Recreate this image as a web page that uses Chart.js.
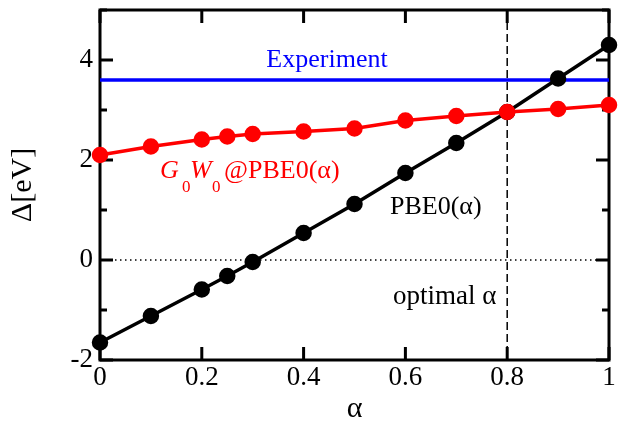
<!DOCTYPE html>
<html>
<head>
<meta charset="utf-8">
<script src="https://cdn.jsdelivr.net/npm/chart.js@4.4.0/dist/chart.umd.min.js"></script>
<style>
  body { margin: 0; background: #fff; }
  canvas { display: block; }
</style>
</head>
<body>
<canvas id="myChart" width="619" height="421"></canvas>
<script>
// mixing fraction alpha and band gap values
const alpha = [0, 0.1, 0.2, 0.25, 0.3, 0.4, 0.5, 0.6, 0.7, 0.8, 0.9, 1.0];
const pbe0 = [-1.65, -1.12, -0.59, -0.32, -0.04, 0.54, 1.12, 1.74, 2.34, 2.96, 3.63, 4.30];
const g0w0 = [2.10, 2.27, 2.41, 2.47, 2.52, 2.57, 2.63, 2.79, 2.88, 2.96, 3.02, 3.10];
const experiment = 3.6;
const optimalAlpha = 0.8;
const xTicks = [0, 0.2, 0.4, 0.6, 0.8, 1];
const yTicks = [-2, -1, 0, 1, 2, 3, 4, 5];

const serif = '"Liberation Serif", "Times New Roman", serif';

function pts(xs, ys) {
  return xs.map((x, i) => ({ x: x, y: ys[i] }));
}

// frame, inward ticks, zero line and the alpha marker
const framePlugin = {
  id: 'frame',
  beforeDatasetsDraw(chart) {
    const { ctx, chartArea: a, scales: { x, y } } = chart;
    ctx.save();

    // dotted zero line
    ctx.strokeStyle = '#000';
    ctx.lineWidth = 1.5;
    ctx.setLineDash([1.5, 3.5]);
    ctx.beginPath();
    ctx.moveTo(a.left, y.getPixelForValue(0));
    ctx.lineTo(a.right, y.getPixelForValue(0));
    ctx.stroke();

    // dashed line at the optimal alpha
    ctx.setLineDash([8, 4]);
    ctx.beginPath();
    ctx.moveTo(x.getPixelForValue(optimalAlpha), a.top);
    ctx.lineTo(x.getPixelForValue(optimalAlpha), a.bottom);
    ctx.stroke();
    ctx.setLineDash([]);

    // box
    ctx.lineWidth = 3;
    ctx.strokeRect(a.left, a.top, a.right - a.left, a.bottom - a.top);

    // ticks pointing inside
    ctx.beginPath();
    xTicks.forEach(v => {
      const px = x.getPixelForValue(v);
      ctx.moveTo(px, a.bottom); ctx.lineTo(px, a.bottom - 13);
      ctx.moveTo(px, a.top); ctx.lineTo(px, a.top + 13);
    });
    yTicks.forEach(v => {
      const py = y.getPixelForValue(v);
      const len = v % 2 === 0 ? 13 : 7;
      ctx.moveTo(a.left, py); ctx.lineTo(a.left + len, py);
      ctx.moveTo(a.right, py); ctx.lineTo(a.right - len, py);
    });
    ctx.stroke();
    ctx.restore();
  },
  afterDatasetsDraw(chart) {
    const { ctx } = chart;
    ctx.save();
    ctx.textBaseline = 'alphabetic';

    // Experiment
    ctx.fillStyle = '#0000ff';
    ctx.font = '26px ' + serif;
    ctx.textAlign = 'center';
    ctx.fillText('Experiment', 327, 67);

    // G0W0@PBE0(α) with subscripts
    ctx.textAlign = 'left';
    ctx.fillStyle = '#ff0000';
    const base = 178;
    const parts = [
      ['G', 'italic 26px ', 160, 0],
      ['0', '17px ', 182, 14],
      ['W', 'italic 26px ', 190, 0],
      ['0', '17px ', 212, 14],
      ['@PBE0(α)', '26px ', 224, 0]
    ];
    parts.forEach(p => {
      ctx.font = p[1] + serif;
      ctx.fillText(p[0], p[2], base + p[3]);
    });

    ctx.fillStyle = '#000';
    ctx.font = '26px ' + serif;
    ctx.fillText('PBE0(α)', 390, 214);
    ctx.font = '27px ' + serif;
    ctx.fillText('optimal α', 393, 304);
    ctx.restore();
  }
};

const ctx = document.getElementById('myChart').getContext('2d');

const myChart = new Chart(ctx, {
  type: 'line',
  data: {
    datasets: [
      {
        label: 'G0W0@PBE0',
        data: pts(alpha, g0w0),
        borderColor: '#ff0000',
        backgroundColor: '#ff0000',
        borderWidth: 3.5,
        pointRadius: 6.5,
        pointHoverRadius: 6.5,
        order: 0,
        clip: false
      },
      {
        label: 'PBE0',
        data: pts(alpha, pbe0),
        borderColor: '#000',
        backgroundColor: '#000',
        borderWidth: 3.5,
        pointRadius: 6.5,
        pointHoverRadius: 6.5,
        order: 1,
        clip: false
      },
      {
        label: 'Experiment',
        data: [{ x: 0, y: experiment }, { x: 1, y: experiment }],
        borderColor: '#0000ff',
        borderWidth: 3.5,
        pointRadius: 0,
        order: 2,
        clip: false
      }
    ]
  },
  options: {
    responsive: false,
    animation: false,
    events: [],
    layout: { padding: { top: 10, right: 6, left: 0, bottom: 0 } },
    plugins: {
      legend: { display: false },
      tooltip: { enabled: false }
    },
    scales: {
      x: {
        type: 'linear',
        min: 0,
        max: 1,
        grid: { display: false, drawTicks: false },
        border: { display: false },
        afterBuildTicks: (s) => { s.ticks = xTicks.map(v => ({ value: v })); },
        afterFit: (s) => { s.height = 61; s.paddingLeft = 0; s.paddingRight = 0; },
        ticks: {
          color: '#000',
          font: { family: serif, size: 27 },
          padding: 2,
          maxRotation: 0,
          autoSkip: false,
          callback: (v) => String(Math.round(v * 10) / 10)
        },
        title: {
          display: true,
          text: 'α',
          color: '#000',
          font: { family: serif, size: 30, lineHeight: 0.8 },
          padding: { top: 0, bottom: 0 }
        }
      },
      y: {
        type: 'linear',
        min: -2,
        max: 5,
        grid: { display: false, drawTicks: false },
        border: { display: false },
        afterBuildTicks: (s) => { s.ticks = yTicks.map(v => ({ value: v })); },
        afterFit: (s) => { s.width = 100; s.paddingTop = 0; s.paddingBottom = 0; },
        ticks: {
          color: '#000',
          font: { family: serif, size: 27 },
          padding: 7,
          autoSkip: false,
          callback: (v) => (v % 2 === 0 && v < 5 ? String(v) : '')
        },
        title: {
          display: true,
          text: 'Δ[eV]',
          color: '#000',
          font: { family: serif, size: 30, lineHeight: 1.2 },
          padding: { top: 5, bottom: 0 }
        }
      }
    }
  },
  plugins: [framePlugin]
});
</script>
</body>
</html>
